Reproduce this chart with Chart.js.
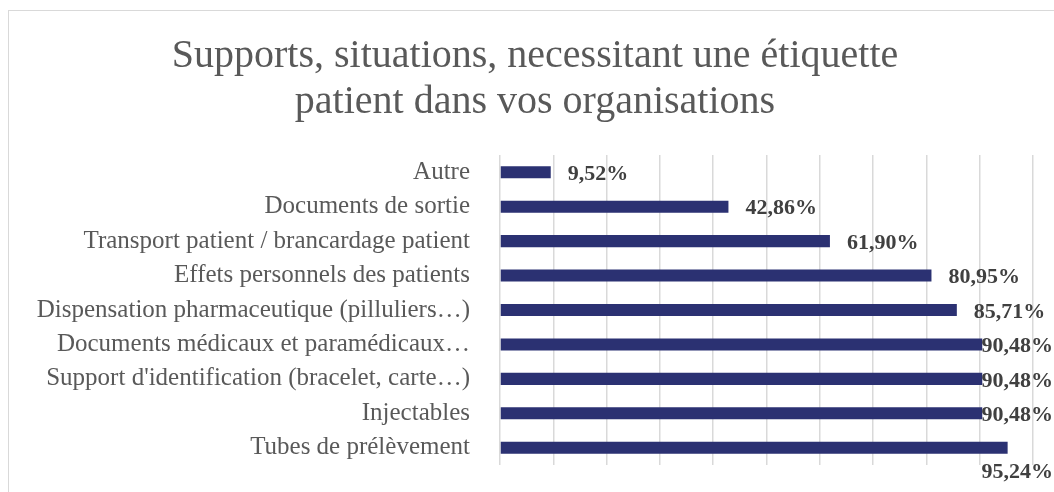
<!DOCTYPE html>
<html>
<head>
<meta charset="utf-8">
<script src="https://cdn.jsdelivr.net/npm/chart.js@4.4.0/dist/chart.umd.min.js"></script>
<style>
  html, body { margin: 0; padding: 0; background: #ffffff; overflow: hidden; }
  #wrap { position: relative; width: 1054px; height: 492px; }
  #frame { position: absolute; left: 8px; top: 10px; width: 1200px; height: 600px;
           border-left: 1.5px solid #d9d9d9; border-top: 1.5px solid #d9d9d9; }
  #c { position: absolute; left: 0; top: 0; }
</style>
</head>
<body>
<div id="wrap">
  <div id="frame"></div>
  <canvas id="c" width="1054" height="492"></canvas>
</div>
<script>
const titleLines = ["Supports, situations, necessitant une étiquette", "patient dans vos organisations"];
const categories = [
  "Autre",
  "Documents de sortie",
  "Transport patient / brancardage patient",
  "Effets personnels des patients",
  "Dispensation pharmaceutique (pilluliers…)",
  "Documents médicaux et paramédicaux…",
  "Support d'identification (bracelet, carte…)",
  "Injectables",
  "Tubes de prélèvement"
];
const values = [9.52, 42.86, 61.90, 80.95, 85.71, 90.48, 90.48, 90.48, 95.24];
const axisMin = 0;
const axisMax = 100;
const axisStep = 10;

const SERIF = "'Liberation Serif', 'DejaVu Serif', serif";
const fmt = v => v.toFixed(2).replace('.', ',') + '%';

const titlePlugin = {
  id: 'customTitle',
  afterDraw(chart) {
    const ctx = chart.ctx;
    ctx.save();
    ctx.font = "40px " + SERIF;
    ctx.fillStyle = '#595959';
    ctx.textAlign = 'center';
    ctx.textBaseline = 'alphabetic';
    ctx.fillText(titleLines[0], 535, 67);
    ctx.fillText(titleLines[1], 535, 113);
    ctx.restore();
  }
};

const dataLabels = {
  id: 'dataLabels',
  afterDatasetsDraw(chart) {
    const ctx = chart.ctx;
    const meta = chart.getDatasetMeta(0);
    const limit = chart.width - 1;
    ctx.save();
    ctx.font = "bold 22px " + SERIF;
    ctx.fillStyle = '#404040';
    ctx.textBaseline = 'middle';
    ctx.textAlign = 'left';
    meta.data.forEach((bar, i) => {
      const txt = fmt(values[i]);
      const w = ctx.measureText(txt).width;
      let x = bar.x + 17;
      let y = bar.y + 2;
      if (x + w > limit) {
        x = limit - w;
        if (bar.x - x > 20) { y = bar.y + 25; }
      }
      ctx.fillText(txt, x, y);
    });
    ctx.restore();
  }
};

new Chart(document.getElementById('c'), {
  type: 'bar',
  data: {
    labels: categories,
    datasets: [{
      data: values,
      backgroundColor: '#2B3172',
      borderWidth: 0,
      categoryPercentage: 1,
      barPercentage: 0.35
    }]
  },
  options: {
    indexAxis: 'y',
    responsive: false,
    animation: false,
    devicePixelRatio: 1,
    layout: { padding: { left: 0, right: 21, top: 155, bottom: 27 } },
    plugins: {
      legend: { display: false },
      tooltip: { enabled: false },
      title: { display: false }
    },
    scales: {
      x: {
        min: axisMin,
        max: axisMax,
        ticks: { stepSize: axisStep, display: false },
        grid: { color: '#d9d9d9', lineWidth: 1.5, drawTicks: false },
        border: { display: false },
        afterFit(scale) { scale.height = 0; scale.paddingLeft = 0; scale.paddingRight = 0; }
      },
      y: {
        ticks: { color: '#595959', font: { family: SERIF, size: 25 }, padding: 30, autoSkip: false },
        grid: { display: false, drawTicks: false },
        border: { display: false },
        afterFit(scale) { scale.width = 500; scale.paddingTop = 0; scale.paddingBottom = 0; }
      }
    }
  },
  plugins: [dataLabels, titlePlugin]
});
</script>
</body>
</html>
